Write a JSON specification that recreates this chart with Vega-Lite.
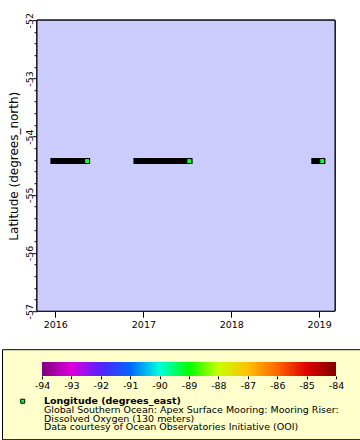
{
  "$schema": "https://vega.github.io/schema/vega-lite/v6.json",
  "padding": {"left": 1, "top": 12.2, "right": 0, "bottom": 0},
  "autosize": {"type": "pad"},
  "background": "white",
  "spacing": 19,
  "config": {
    "font": "DejaVu Sans",
    "axis": {
      "labelFont": "DejaVu Sans",
      "titleFont": "DejaVu Sans",
      "labelColor": "black",
      "titleColor": "black",
      "tickColor": "black",
      "domain": false,
      "grid": false,
      "labelFontSize": 9.5,
      "titleFontWeight": "normal",
      "labelOverlap": false,
      "tickCount": 100
    }
  },
  "vconcat": [
    {
      "width": 358,
      "height": 291,
      "view": {"fill": null, "stroke": null},
      "data": {
        "values": [
          {"start": "2015-12-24", "end": "2016-05-12", "lat": -54.42, "lon": -89.28},
          {"start": "2016-12-03", "end": "2017-07-11", "lat": -54.42, "lon": -89.28},
          {"start": "2018-12-12", "end": "2019-01-14", "lat": -54.42, "lon": -89.28}
        ]
      },
      "layer": [
        {
          "mark": {"type": "rect", "fill": "#ccccff", "stroke": "black", "strokeWidth": 1},
          "encoding": {
            "x": {
              "datum": {"year": 2015, "month": 10, "date": 17, "utc": true},
              "type": "temporal",
              "scale": {
                "type": "utc",
                "domain": [
                  {"year": 2015, "month": 10, "date": 17, "utc": true},
                  {"year": 2019, "month": 3, "date": 8, "utc": true}
                ],
                "range": [35, 333],
                "nice": false
              },
              "axis": {
                "title": null,
                "values": [
                  {"year": 2016, "month": 1, "date": 1, "utc": true},
                  {"year": 2017, "month": 1, "date": 1, "utc": true},
                  {"year": 2018, "month": 1, "date": 1, "utc": true},
                  {"year": 2019, "month": 1, "date": 1, "utc": true}
                ],
                "format": "%Y",
                "tickSize": 6,
                "labelPadding": 2,
                "labelFlush": false
              }
            },
            "x2": {"datum": {"year": 2019, "month": 3, "date": 8, "utc": true}},
            "y": {
              "datum": -57,
              "type": "quantitative",
              "scale": {"domain": [-57, -52], "nice": false, "zero": false},
              "axis": {
                "title": "Latitude (degrees_north)",
                "titleFontSize": 12,
                "titlePadding": 4,
                "offset": -35,
                "values": [-57, -56.8, -56.6, -56.4, -56.2, -56, -55.8, -55.6, -55.4, -55.2, -55, -54.8, -54.6, -54.4, -54.2, -54, -53.8, -53.6, -53.4, -53.2, -53, -52.8, -52.6, -52.4, -52.2, -52],
                "labelExpr": "abs(datum.value - round(datum.value)) < 0.01 ? '' + round(datum.value) : ''",
                "labelAngle": -90,
                "labelAlign": "center",
                "labelBaseline": "alphabetic",
                "labelPadding": 0,
                "labelFlush": false,
                "tickSize": {"condition": {"test": "abs(datum.value - round(datum.value)) < 0.01", "value": 5}, "value": 3}
              }
            },
            "y2": {"datum": -52}
          }
        },
        {
          "mark": {"type": "rule", "strokeWidth": 6, "strokeCap": "square", "color": "black"},
          "encoding": {
            "x": {"field": "start", "type": "temporal"},
            "x2": {"field": "end"},
            "y": {"field": "lat", "type": "quantitative"}
          }
        },
        {
          "mark": {"type": "point", "shape": "square", "filled": true, "size": 25, "stroke": "black", "strokeWidth": 1, "opacity": 1},
          "encoding": {
            "x": {"field": "end", "type": "temporal"},
            "y": {"field": "lat", "type": "quantitative"},
            "color": {
              "field": "lon",
              "type": "quantitative",
              "scale": {
                "domain": [-94, -93, -92, -91, -90, -89, -88, -87, -86, -85, -84],
                "range": ["#7f007f", "#dd00dd", "#5522ff", "#0066ff", "#00ffdd", "#00ff00", "#c8ff00", "#ffc000", "#ff6600", "#e00000", "#800000"],
                "interpolate": "rgb"
              },
              "legend": null
            }
          }
        }
      ]
    },
    {
      "width": 358,
      "height": 90,
      "view": {"fill": "#ffffcc", "stroke": "black", "strokeWidth": 1},
      "data": {
        "values": [
          {"line": 1, "text": "Longitude (degrees_east)"},
          {"line": 2, "text": "Global Southern Ocean: Apex Surface Mooring: Mooring Riser:"},
          {"line": 3, "text": "Dissolved Oxygen (130 meters)"},
          {"line": 4, "text": "Data courtesy of Ocean Observatories Initiative (OOI)"}
        ]
      },
      "layer": [
        {
          "data": {"values": [{"lo": -94, "hi": -84}]},
          "mark": {
            "type": "rect",
            "fill": {
              "gradient": "linear",
              "x1": 0, "y1": 0, "x2": 1, "y2": 0,
              "stops": [
                {"offset": 0, "color": "#7f007f"},
                {"offset": 0.1, "color": "#dd00dd"},
                {"offset": 0.2, "color": "#5522ff"},
                {"offset": 0.3, "color": "#0066ff"},
                {"offset": 0.4, "color": "#00ffdd"},
                {"offset": 0.5, "color": "#00ff00"},
                {"offset": 0.6, "color": "#c8ff00"},
                {"offset": 0.7, "color": "#ffc000"},
                {"offset": 0.8, "color": "#ff6600"},
                {"offset": 0.9, "color": "#e00000"},
                {"offset": 1, "color": "#800000"}
              ]
            }
          },
          "encoding": {
            "x": {
              "field": "lo",
              "type": "quantitative",
              "scale": {"domain": [-94, -84], "range": [40, 334], "nice": false, "zero": false},
              "axis": {
                "title": null,
                "orient": "bottom",
                "offset": -63.3,
                "values": [-94, -93, -92, -91, -90, -89, -88, -87, -86, -85, -84],
                "labelExpr": "'' + round(datum.value)",
                "tickSize": 3,
                "labelPadding": 2,
                "labelFlush": false
              }
            },
            "x2": {"field": "hi"},
            "y": {
              "datum": -3.53,
              "type": "quantitative",
              "scale": {"domain": [-5, 5.38], "reverse": true, "nice": false, "zero": false},
              "axis": null
            },
            "y2": {"datum": -1.92}
          }
        },
        {
          "data": {"values": [{"lon": -89.28}]},
          "mark": {"type": "point", "shape": "square", "filled": true, "size": 16, "stroke": "black", "strokeWidth": 1, "opacity": 1},
          "encoding": {
            "x": {"datum": -94.656, "type": "quantitative"},
            "y": {"datum": 1, "type": "quantitative"},
            "color": {"field": "lon", "type": "quantitative", "legend": null}
          }
        },
        {
          "transform": [{"filter": "datum.line == 1"}],
          "mark": {"type": "text", "align": "left", "baseline": "middle", "fontSize": 9.5, "fontWeight": "bold", "font": "DejaVu Sans", "color": "black"},
          "encoding": {
            "x": {"datum": -93.932, "type": "quantitative"},
            "y": {"field": "line", "type": "quantitative"},
            "text": {"field": "text"}
          }
        },
        {
          "transform": [{"filter": "datum.line > 1"}],
          "mark": {"type": "text", "align": "left", "baseline": "middle", "fontSize": 9.5, "font": "DejaVu Sans", "color": "black"},
          "encoding": {
            "x": {"datum": -93.932, "type": "quantitative"},
            "y": {"field": "line", "type": "quantitative"},
            "text": {"field": "text"}
          }
        }
      ]
    }
  ]
}
